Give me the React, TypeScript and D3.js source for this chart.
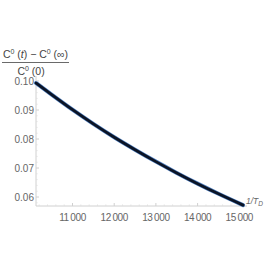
import React from "react";
import * as d3 from "d3";

const invTD = [10125, 10500, 11000, 11500, 12000, 12500, 13000, 13500, 14000, 14500, 15090];
const ratio = [0.0993, 0.0953, 0.0901, 0.0852, 0.0806, 0.0763, 0.0722, 0.0683, 0.0646, 0.0611, 0.0572];
const xTicks = [11000, 12000, 13000, 14000, 15000];
const xTickLabels = ["11\u2009000", "12\u2009000", "13\u2009000", "14\u2009000", "15\u2009000"];
const yTicks = [0.06, 0.07, 0.08, 0.09, 0.1];
const yTickLabels = ["0.06", "0.07", "0.08", "0.09", "0.10"];

export default function App() {
  const W = 266, H = 266;
  const x = d3.scaleLinear().domain([11000, 15000]).range([72.5, 239.3]);
  const y = d3.scaleLinear().domain([0.06, 0.1]).range([197, 81]);
  const x0 = 36, y0 = 206;
  const pts = invTD.map((v, i) => [v, ratio[i]] as [number, number]);
  const line = d3.line<[number, number]>().x(d => x(d[0])).y(d => y(d[1])).curve(d3.curveMonotoneX);
  const xMinor = d3.range(10200, 15100, 200).filter(v => v % 1000 !== 0 && x(v) > x0);
  const yMinor = d3.range(0.058, 0.1001, 0.002).filter(v => Math.round(v * 1000) % 10 !== 0 && y(v) < y0);
  const font = "'Liberation Sans', Arial, sans-serif";
  const gray = "#666";
  return (
    <svg width={W} height={H} style={{ position: "absolute", left: 0, top: 0, background: "#fff" }} fontFamily={font}>
      <line x1={x0} x2={x0} y1={76} y2={y0} stroke="#d0d0d0" strokeWidth={1} />
      <line x1={x0} x2={247} y1={y0} y2={y0} stroke="#d0d0d0" strokeWidth={1} />
      {xTicks.map((t) => (
        <line key={"xt" + t} x1={x(t)} x2={x(t)} y1={y0} y2={y0 - 3} stroke="#d0d0d0" />
      ))}
      {xMinor.map((t) => (
        <line key={"xm" + t} x1={x(t)} x2={x(t)} y1={y0} y2={y0 - 1.5} stroke="#e0e0e0" />
      ))}
      {yTicks.map((t) => (
        <line key={"yt" + t} x1={x0} x2={x0 + 3} y1={y(t)} y2={y(t)} stroke="#d0d0d0" />
      ))}
      {yMinor.map((t, i) => (
        <line key={"ym" + i} x1={x0} x2={x0 + 1.5} y1={y(t)} y2={y(t)} stroke="#e0e0e0" />
      ))}
      {xTicks.map((t, i) => (
        <text key={"xl" + t} x={x(t)} y={221} fontSize={10} fill={gray} textAnchor="middle" letterSpacing={-0.4}>
          {xTickLabels[i]}
        </text>
      ))}
      {yTicks.map((t, i) => (
        <text key={"yl" + t} x={34} y={y(t) + 3.5} fontSize={10} fill={gray} textAnchor="end">
          {yTickLabels[i]}
        </text>
      ))}
      <path d={line(pts) || ""} fill="none" stroke="#4f7fbf" strokeWidth={4} strokeLinecap="round" />
      <path d={line(pts) || ""} fill="none" stroke="#0b1426" strokeWidth={2.8} strokeLinecap="round" />
      <text x={246} y={204} fontSize={8.5} fill={gray} fontStyle="italic">
        1/<tspan>T</tspan><tspan fontSize={6.5} dy={1.5}>D</tspan>
      </text>
      <text x={35.5} y={58} fontSize={10.5} fill="#444" textAnchor="middle">
        C<tspan fontSize={7} dy={-4}>0</tspan><tspan dy={4}> (</tspan><tspan fontStyle="italic">t</tspan>) − C<tspan fontSize={7} dy={-4}>0</tspan><tspan dy={4}> (∞)</tspan>
      </text>
      <line x1={2} x2={69} y1={62.5} y2={62.5} stroke="#444" strokeWidth={0.8} />
      <text x={31} y={74.5} fontSize={10.5} fill="#444" textAnchor="middle">
        C<tspan fontSize={7} dy={-4}>0</tspan><tspan dy={4}> (0)</tspan>
      </text>
    </svg>
  );
}
